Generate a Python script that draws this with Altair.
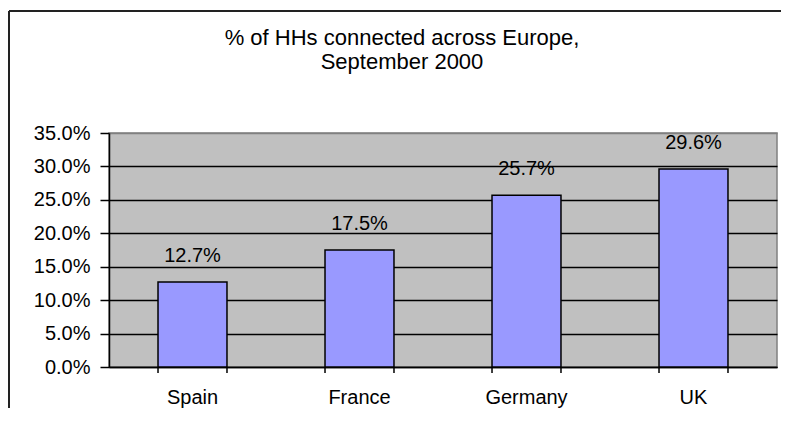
import altair as alt
import pandas as pd

countries = ["Spain", "France", "Germany", "UK"]
shares = [0.127, 0.175, 0.257, 0.296]
y_ticks = [0.0, 0.05, 0.10, 0.15, 0.20, 0.25, 0.30, 0.35]
title_lines = ["% of HHs connected across Europe,", "September 2000"]

df = pd.DataFrame({"country": countries, "share": shares})
frame_df = pd.DataFrame({"k": [0]})

FONT = "Liberation Sans"
W, H = 668, 234

x_scale = alt.Scale(paddingInner=0.587, paddingOuter=0.2935)
x_axis = alt.Axis(labelAngle=0, ticks=False, domain=True, domainColor="black",
                  domainWidth=1.5, labelPadding=20, labelFontSize=20, labelFont=FONT,
                  labelColor="black", grid=False)
y_scale = alt.Scale(domain=[0, 0.35], nice=False, zero=True)
y_axis = alt.Axis(values=y_ticks, format=".1%", labelFontSize=20, labelFont=FONT,
                  labelColor="black", tickSize=9, tickColor="black", tickWidth=1.5,
                  labelPadding=10, labelOverlap=False, domainColor="black", domainWidth=1.5,
                  grid=True,
                  gridColor={"condition": {"test": "datum.value >= 0.349", "value": "#808080"},
                             "value": "black"},
                  gridWidth=1.5)


def xenc(bp=None):
    if bp is None:
        return alt.X("country:N", sort=countries, title=None, scale=x_scale, axis=x_axis)
    return alt.X("country:N", sort=countries, title=None, scale=x_scale, axis=x_axis,
                 bandPosition=bp)


def yenc():
    return alt.Y("share:Q", title=None, scale=y_scale, axis=y_axis)


base = alt.Chart(df)

bars = base.mark_bar(color="#9999FF", stroke="black", strokeWidth=1.5).encode(
    x=xenc(), y=yenc()
)

labels = base.mark_text(baseline="middle", dy=-26, fontSize=20, font=FONT, color="black").encode(
    x=xenc(),
    y=yenc(),
    text=alt.Text("share:Q", format=".1%"),
)

ticks_a = base.mark_rule(color="black", strokeWidth=1.5).encode(
    x=xenc(0), y=alt.value(H), y2=alt.value(H + 6),
)
ticks_b = base.mark_rule(color="black", strokeWidth=1.5).encode(
    x=xenc(1), y=alt.value(H), y2=alt.value(H + 6),
)

frame_left = alt.Chart(frame_df).mark_rule(color="#222222", strokeWidth=2).encode(
    x=alt.value(-100), y=alt.value(-122), y2=alt.value(320)
)
frame_top = alt.Chart(frame_df).mark_rule(color="#222222", strokeWidth=2).encode(
    x=alt.value(-100), x2=alt.value(720), y=alt.value(-122)
)

chart = alt.layer(bars, labels, ticks_a, ticks_b, frame_left, frame_top).properties(
    width=W, height=H,
    title=alt.TitleParams(text=title_lines, anchor="middle", frame="group", dx=-41,
                          dy=86, offset=0, baseline="bottom",
                          fontSize=22, font=FONT, fontWeight="normal", color="black",
                          lineHeight=24),
    autosize=alt.AutoSizeParams(type="none"),
    padding={"left": 101, "top": 125, "right": 4, "bottom": 41},
    background="white",
).configure_view(fill="#C0C0C0", stroke="#808080", strokeWidth=1.5)

chart.save("out.html", embed_options={"renderer": "svg", "actions": False})
